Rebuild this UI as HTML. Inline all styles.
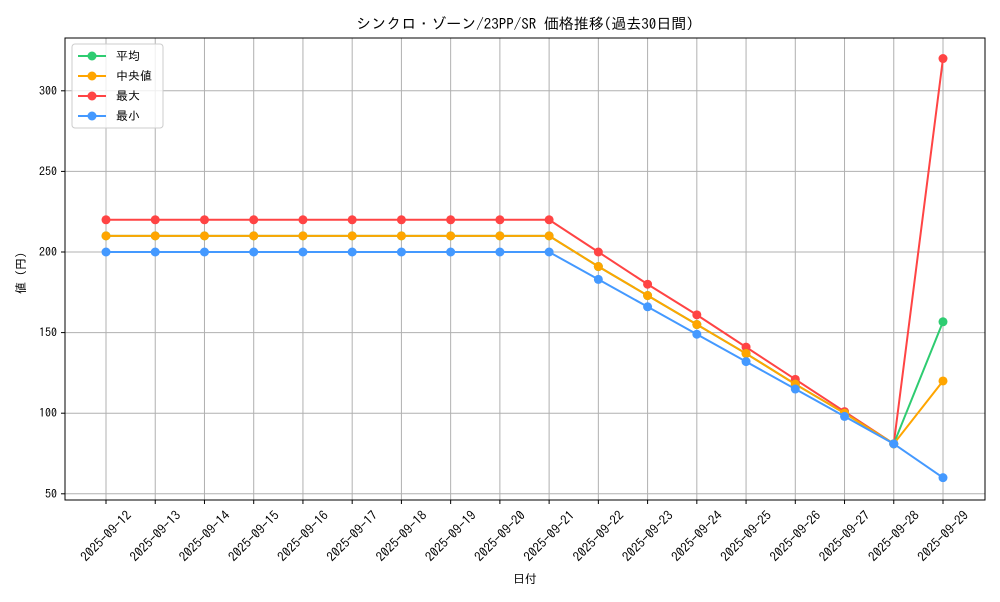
<!DOCTYPE html>
<html><head><meta charset="utf-8"><style>
body{margin:0;background:#fff;font-family:"IPAGothic","Liberation Sans","Noto Sans CJK JP",sans-serif;}
svg text{font-family:"IPAGothic","Liberation Sans","Noto Sans CJK JP",sans-serif;fill:#000;}
</style></head><body>
<svg width="1000" height="600" id="chart">
<text x="525" y="29" font-size="15" text-anchor="middle">シンクロ・ゾーン/23PP/SR 価格推移(過去30日間)</text>
<g id="grid"></g>
<rect x="65" y="38" width="920" height="462" fill="none" stroke="#000" stroke-width="1"/>
<g id="axes"></g>
<g id="series"></g>
<text x="525" y="583" font-size="12" text-anchor="middle">日付</text>
<text transform="translate(25,270) rotate(-90)" font-size="12" text-anchor="middle">値（円）</text>
<g id="legend"></g>
</svg>
<script>
const dates=["2025-09-12","2025-09-13","2025-09-14","2025-09-15","2025-09-16","2025-09-17","2025-09-18","2025-09-19","2025-09-20","2025-09-21","2025-09-22","2025-09-23","2025-09-24","2025-09-25","2025-09-26","2025-09-27","2025-09-28","2025-09-29"];
const meanVals=[210,210,210,210,210,210,210,210,210,210,191,173,155,137,118,100,81,156.7];
const medianVals=[210,210,210,210,210,210,210,210,210,210,191,173,155,137,118,100,81,120];
const maxVals=[220,220,220,220,220,220,220,220,220,220,200,180,161,141,121,101,81,320];
const minVals=[200,200,200,200,200,200,200,200,200,200,183,166,149,132,115,98,81,60];
const yTicks=[50,100,150,200,250,300];
const NS="http://www.w3.org/2000/svg";
const xS=i=>106+i*(943-106)/(dates.length-1);
const yS=v=>252-(v-200)*1.612;
function mk(tag,attrs,parent){const e=document.createElementNS(NS,tag);for(const k in attrs)e.setAttribute(k,attrs[k]);parent.appendChild(e);return e;}
const grid=document.getElementById('grid'),axes=document.getElementById('axes'),ser=document.getElementById('series'),leg=document.getElementById('legend');
dates.forEach((d,i)=>{
 const l=mk('line',{x1:xS(i),x2:xS(i),y1:38,y2:500,stroke:'#b0b0b0','stroke-width':1},grid);
 
 
 mk('line',{x1:xS(i),x2:xS(i),y1:500,y2:504,stroke:'#000'},axes);
 const t=mk('text',{'font-size':13,'text-anchor':'middle',dy:'0.35em',transform:`translate(${xS(i)},${536}) rotate(-45)`},axes);
 t.textContent=d;
 
 
});
yTicks.forEach(v=>{
 const l=mk('line',{x1:65,x2:985,y1:yS(v),y2:yS(v),stroke:'#b0b0b0','stroke-width':1},grid);
 
 
 mk('line',{x1:61,x2:65,y1:yS(v),y2:yS(v),stroke:'#000'},axes);
 const t=mk('text',{x:57,y:yS(v)+4,'font-size':12,'text-anchor':'end'},axes);
 t.textContent=v;
 
 
});
const series=[["平均",meanVals,"#2ecc71","mean"],["中央値",medianVals,"#ffa500","median"],["最大",maxVals,"#ff4444","max"],["最小",minVals,"#4499ff","min"]];
const order=[2,0,1,3];
order.forEach(k=>{
 const [name,vals,col,key]=series[k];
 const g=mk('g',{},ser);
 
 
 const p=mk('polyline',{points:vals.map((v,i)=>xS(i)+','+yS(v)).join(' '),fill:'none',stroke:col,'stroke-width':2},g);
 
 
 vals.forEach((v,i)=>{
  const c=mk('circle',{cx:xS(i),cy:yS(v),r:4.5,fill:col},g);
  
  
 });
});
const box=mk('rect',{x:72,y:44,width:91,height:84,rx:3,fill:'#fff','fill-opacity':0.8,stroke:'#ccc'},leg);


series.forEach(([name,vals,col,key],j)=>{
 const y=56+j*20;
 const g=mk('g',{},leg);
 
 
 mk('line',{x1:78,x2:106,y1:y,y2:y,stroke:col,'stroke-width':2},g);
 mk('circle',{cx:92,cy:y,r:4.5,fill:col},g);
 const t=mk('text',{x:116,y:y+4,'font-size':12},g);
 t.textContent=name;
});
</script>
</body></html>
